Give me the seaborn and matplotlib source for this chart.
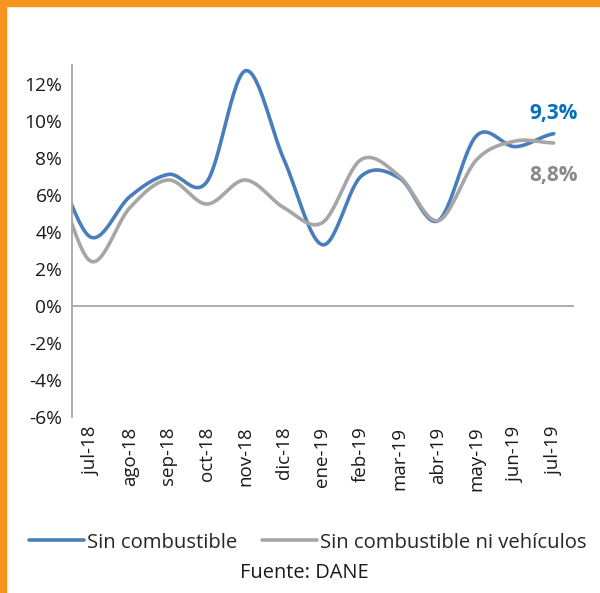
import numpy as np
import pandas as pd
import seaborn as sns
import matplotlib.pyplot as plt
from matplotlib.patches import Rectangle

# monthly values (%), jun-18 is only there so the curve enters from the left edge
meses = ['jun-18', 'jul-18', 'ago-18', 'sep-18', 'oct-18', 'nov-18', 'dic-18',
         'ene-19', 'feb-19', 'mar-19', 'abr-19', 'may-19', 'jun-19', 'jul-19']
sin_comb = [7.4, 3.7, 5.9, 7.1, 6.7, 12.7, 7.9, 3.3, 7.0, 6.9, 4.6, 9.2, 8.6, 9.3]
sin_comb_veh = [6.8, 2.4, 5.3, 6.8, 5.5, 6.8, 5.3, 4.5, 7.9, 7.0, 4.6, 7.9, 8.9, 8.8]
series_names = ['Sin combustible', 'Sin combustible ni vehículos']
colores = ['#4a7ebb', '#a6a6a6']


def smooth(vals, steps=30):
    # Excel style smoothed line (Catmull-Rom)
    p = np.r_[vals[0], vals, vals[-1]]
    xs, ys = [], []
    for i in range(1, len(p) - 2):
        t = np.linspace(0, 1, steps, endpoint=False)
        p0, p1, p2, p3 = p[i - 1], p[i], p[i + 1], p[i + 2]
        y = 0.5 * ((2 * p1) + (-p0 + p2) * t + (2 * p0 - 5 * p1 + 4 * p2 - p3) * t**2
                   + (-p0 + 3 * p1 - 3 * p2 + p3) * t**3)
        xs.extend(i - 2 + t)
        ys.extend(y)
    xs.append(len(vals) - 2)
    ys.append(vals[-1])
    return np.array(xs), np.array(ys)


frames = []
for name, vals in zip(series_names, [sin_comb, sin_comb_veh]):
    x, y = smooth(vals)
    frames.append(pd.DataFrame({'x': x, 'valor': y, 'serie': name}))
df = pd.concat(frames)

sns.set_style('white')
plt.rcParams['font.family'] = ['Open Sans', 'DejaVu Sans']

fig = plt.figure(figsize=(6, 5.93), dpi=100)
ax = fig.add_axes([0.12, 0.297, 0.835, 0.593])

sns.lineplot(data=df, x='x', y='valor', hue='serie', palette=colores,
             linewidth=2.6, ax=ax, legend=False, sort=False)

ax.set_xlim(-0.5, 12.5)
ax.set_ylim(-6, 13)
ax.set_xlabel('')
ax.set_ylabel('')

axis_col = '#a6a6a6'
for s in ['top', 'right']:
    ax.spines[s].set_visible(False)
ax.spines['left'].set_color(axis_col)
ax.spines['left'].set_linewidth(1.3)
ax.spines['bottom'].set_position(('data', 0))
ax.spines['bottom'].set_color(axis_col)
ax.spines['bottom'].set_linewidth(1.3)

ax.set_yticks(np.arange(-6, 13, 2))
ax.set_yticklabels([f'{v}%' for v in range(-6, 13, 2)])
ax.tick_params(axis='y', direction='in', length=5, width=1.2, color=axis_col,
               labelsize=13.8, pad=7, labelcolor='#1a1a1a')
ax.set_xticks(np.arange(-0.5, 13, 1))
ax.tick_params(axis='x', direction='in', length=5, width=1.2, color=axis_col,
               labelbottom=False)

sec = ax.secondary_xaxis(0)
sec.set_xticks(range(0, 13))
sec.set_xticklabels(meses[1:], rotation=90)
sec.tick_params(length=0, labelsize=13.5, pad=7, labelcolor='#1a1a1a')
sec.spines['bottom'].set_visible(False)

ax.text(12, 10.4, '9,3%', color='#0070c0', fontsize=15, fontweight='bold',
        ha='center', va='center')
ax.text(12, 7.05, '8,8%', color='#898989', fontsize=15, fontweight='bold',
        ha='center', va='center')

handles = [plt.Line2D([], [], color=c, linewidth=2.6) for c in colores]
fig.legend(handles, series_names, loc='center', bbox_to_anchor=(0.513, 0.085),
           ncol=2, frameon=False, fontsize=14.6, handlelength=2.7,
           handletextpad=0.15, columnspacing=1.2)
fig.text(0.507, 0.033, 'Fuente: DANE', ha='center', va='center', fontsize=14.4,
         color='#1a1a1a')

# orange frame on the left and top
fig.patches.append(Rectangle((0, 0), 0.01, 1, transform=fig.transFigure,
                             color='#f7941d', zorder=10))
fig.patches.append(Rectangle((0, 1 - 6 / 593), 1, 6 / 593, transform=fig.transFigure,
                             color='#f7941d', zorder=10))

fig.savefig('out.png', dpi=100)
